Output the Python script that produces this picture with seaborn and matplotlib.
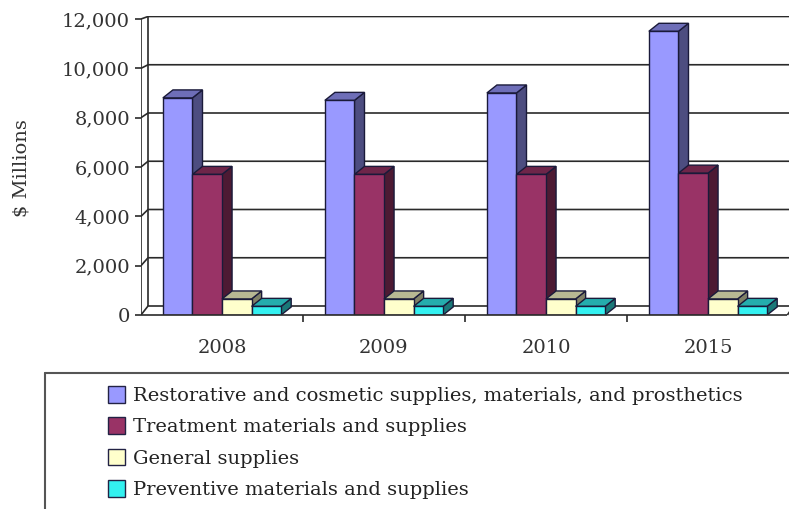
import numpy as np
import pandas as pd
import matplotlib
matplotlib.use("Agg")
import matplotlib.pyplot as plt
import seaborn as sns
from matplotlib.patches import Polygon, Patch
from matplotlib.colors import to_rgb
from matplotlib.lines import Line2D

# ---- data ----
years = ["2008", "2009", "2010", "2015"]
series_names = [
    "Restorative and cosmetic supplies, materials, and prosthetics",
    "Treatment materials and supplies",
    "General supplies",
    "Preventive materials and supplies",
]
restorative = [8800, 8700, 9000, 11500]
treatment = [5700, 5700, 5700, 5750]
general = [650, 650, 650, 650]
preventive = [350, 350, 350, 350]
yticks = [0, 2000, 4000, 6000, 8000, 10000, 12000]
ytick_labels = ["0", "2,000", "4,000", "6,000", "8,000", "10,000", "12,000"]
ylabel = "$ Millions"
colors = ["#9999FF", "#993366", "#FFFFCC", "#33F0F0"]

rows = []
for name, vals in zip(series_names, [restorative, treatment, general, preventive]):
    for y, v in zip(years, vals):
        rows.append({"year": y, "series": name, "value": v})
df = pd.DataFrame(rows)

sns.set_style("white")
plt.rcParams["font.family"] = ["DejaVu Serif"]
FS = 14

W, H = 789, 509
fig = plt.figure(figsize=(W / 100, H / 100), dpi=100)
fig.patch.set_facecolor("white")

# front plane: pixel y 315 -> 0, pixel y 16.5 -> 12100
ax = fig.add_axes([141 / W, 1 - 315 / H, (789 - 141) / W, (315 - 16.5) / H])
ax.set_xlim(-0.5, 3.525)
ax.set_ylim(0, 12100)
ax.set_facecolor("none")
for s in ax.spines.values():
    s.set_visible(False)

px_y = 12100 / (315 - 16.5)      # data units per pixel (y)
px_x = 4.025 / (789 - 141)       # data units per pixel (x)

sns.barplot(data=df, x="year", y="value", hue="series", palette=colors,
            hue_order=series_names, order=years, width=0.73, saturation=1,
            edgecolor="#1a1a3a", linewidth=1.0, ax=ax, legend=False, zorder=3)

def front_y(v):
    return v * (315 - 19) / (315 - 16.5) * 12100 / 12000

# back wall geometry (slight perspective)
def back_y(v):
    ypix = 306 - v * (306 - 16.5) / 12000
    return (315 - ypix) * px_y

wall_x = -0.5 + 7 * px_x
xmax = 3.525
line_kw = dict(color="#2a2a2a", lw=1.2, solid_capstyle="butt")
for v in yticks:
    ax.plot([-0.5, wall_x, xmax], [front_y(v), back_y(v), back_y(v)], zorder=1, **line_kw)
ax.plot([wall_x, wall_x], [back_y(0), back_y(12000)], zorder=1, **line_kw)
ax.plot([-0.5, -0.5], [0, front_y(12000)], zorder=1, **line_kw)
# floor front edge
ax.plot([-0.5, 3.49], [0, 0], zorder=6, clip_on=False, **line_kw)
ax.plot([3.49, 3.49 + 6 * px_x], [0, back_y(0)], zorder=6, clip_on=False, **line_kw)

# 3D faces for bars
dx = 10 * px_x
dy = 8 * px_y
bars = sorted([p for p in ax.patches if p.get_height() > 0], key=lambda p: p.get_x())
for i, p in enumerate(bars):
    x, w, h = p.get_x(), p.get_width(), p.get_height()
    base = to_rgb(p.get_facecolor())
    top_c = tuple(c * 0.72 for c in base)
    side_c = tuple(c * 0.5 for c in base)
    z = 3 + 0.01 * i
    side = Polygon([(x + w, 0), (x + w, h), (x + w + dx, h + dy), (x + w + dx, dy)],
                   closed=True, facecolor=side_c, edgecolor="#1a1a3a", lw=1.0, zorder=z)
    top = Polygon([(x, h), (x + w, h), (x + w + dx, h + dy), (x + dx, h + dy)],
                  closed=True, facecolor=top_c, edgecolor="#1a1a3a", lw=1.0, zorder=z)
    ax.add_patch(side)
    ax.add_patch(top)
    p.set_zorder(z + 0.005)

# ticks
ax.set_yticks([front_y(v) for v in yticks])
ax.set_yticklabels(ytick_labels, fontsize=FS, color="#333333")
ax.tick_params(axis="y", left=True, length=4, width=1.2, color="#2a2a2a", pad=4)
ax.set_xticks([0, 1, 2, 3])
ax.set_xticklabels(years, fontsize=FS, color="#333333")
ax.tick_params(axis="x", bottom=False, pad=14)
ax.set_xticks([0.5, 1.5, 2.5], minor=True)
ax.tick_params(axis="x", which="minor", bottom=True, length=5, width=1.2, color="#2a2a2a")
ax.set_xlabel("")
ax.set_ylabel("")
ax.grid(False)

fig.text(22 / W, 1 - 168 / H, ylabel, rotation=90, ha="center", va="center",
         fontsize=FS, color="#333333")

# legend frame (extends past the figure edges)
fig.add_artist(Line2D([45 / W, 1.0], [1 - 373 / H, 1 - 373 / H], transform=fig.transFigure,
                      color="#555555", lw=1.5))
fig.add_artist(Line2D([45 / W, 45 / W], [1 - 373 / H, 0.0], transform=fig.transFigure,
                      color="#555555", lw=1.5))

handles = [Patch(facecolor=c, edgecolor="#222244", lw=1.0) for c in colors]
leg = fig.legend(handles, series_names, loc="upper left",
                 bbox_to_anchor=(108 / W, 1 - 386 / H), frameon=False,
                 fontsize=FS, handlelength=0.87, handleheight=0.93,
                 handletextpad=0.4, labelspacing=0.64, borderpad=0, borderaxespad=0)
for t in leg.get_texts():
    t.set_color("#222222")

fig.savefig("out.png", dpi=100, facecolor="white")
